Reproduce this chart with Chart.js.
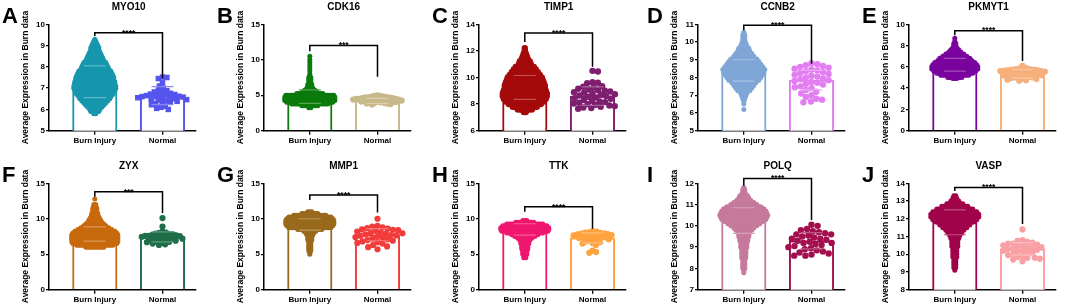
<!DOCTYPE html>
<html><head><meta charset="utf-8">
<script src="https://cdn.jsdelivr.net/npm/chart.js@4.4.0/dist/chart.umd.min.js"></script>
<style>
html,body{margin:0;padding:0;background:#fff;width:1072px;height:307px;overflow:hidden;position:relative}
canvas{position:absolute}
</style></head><body>
<script>
// ---------- DATA ----------
const categories = ['Burn Injury', 'Normal'];
const genes = ['MYO10','CDK16','TIMP1','CCNB2','PKMYT1','ZYX','MMP1','TTK','POLQ','VASP'];
const panelLetters = ['A','B','C','D','E','F','G','H','I','J'];
const yTitle = 'Average Expression in Burn data';
const yMin  = [5, 0, 6, 5, 0, 0, 0, 0, 7, 8];
const yMax  = [10, 15, 14, 11, 10, 15, 15, 15, 12, 14];
const yStep = [1, 5, 2, 1, 2, 5, 5, 5, 1, 1];
const burnMean   = [7.3, 4.8, 9.25, 8.4, 6.2, 7.85, 9.2, 8.5, 10.25, 11.8];
const burnSD     = [0.75, 0.95, 0.9, 0.6, 0.6, 1.0, 0.8, 0.8, 0.6, 0.7];
const normalMean = [6.65, 4.2, 8.6, 7.85, 5.35, 7.45, 7.75, 7.3, 9.3, 10.3];
const normalSD   = [0.42, 0.35, 0.7, 0.55, 0.4, 0.7, 0.85, 0.7, 0.38, 0.35];
const stars = ['****','***','****','****','****','***','****','****','****','****'];
const bracketY        = [9.6, 12.0, 13.35, 10.94, 9.4, 13.8, 13.35, 11.7, 12.23, 13.76];
const bracketLeftEnd  = [9.45, 11.2, 12.66, 10.66, 8.97, 13.1, 12.65, 11.0, 11.89, 13.56];
const bracketRightEnd = [7.47, 7.6, 10.8, 8.78, 6.56, 10.8, 10.9, 8.6, 10.28, 11.7];

// Burn Injury swarms: [expression level, number of samples at that level]
const burnMYO10 = [[9.3,1],[9.2,2],[9.1,3],[9.0,4],[8.9,5],[8.8,5],[8.7,6],[8.6,7],[8.5,8],[8.4,9],[8.3,10],[8.2,12],[8.1,13],[8.0,14],[7.9,15],[7.8,17],[7.7,18],[7.6,19],[7.5,20],[7.4,20],[7.3,21],[7.2,21],[7.1,22],[7.0,22],[6.9,21],[6.8,20],[6.7,19],[6.6,17],[6.5,16],[6.4,14],[6.3,12],[6.2,10],[6.1,8],[6.0,6],[5.9,5],[5.8,2]];
const burnCDK16 = [[10.5,1],[10.0,1],[9.6,1],[9.2,1],[8.8,1],[8.4,1],[8.0,1],[7.75,1],[7.5,2],[7.25,2],[7.0,2],[6.75,2],[6.5,3],[6.25,3],[6.0,4],[5.75,6],[5.5,8],[5.25,14],[5.0,25],[4.75,26],[4.5,26],[4.25,26],[4.0,24],[3.75,19],[3.5,9],[3.25,2]];
const burnTIMP1 = [[12.2,1],[12.0,1],[11.8,2],[11.6,3],[11.4,4],[11.2,6],[11.0,7],[10.8,10],[10.6,12],[10.4,14],[10.2,16],[10.0,18],[9.8,19],[9.6,20],[9.4,21],[9.2,21],[9.0,22],[8.8,23],[8.6,23],[8.4,22],[8.2,20],[8.0,17],[7.8,13],[7.6,8],[7.4,2]];
const burnCCNB2 = [[10.55,1],[10.4,2],[10.25,2],[10.1,2],[9.95,3],[9.8,4],[9.65,6],[9.5,7],[9.35,9],[9.2,11],[9.05,14],[8.9,16],[8.75,18],[8.6,20],[8.45,22],[8.3,21],[8.15,20],[8.0,18],[7.85,16],[7.7,13],[7.55,11],[7.4,9],[7.25,7],[7.1,4],[6.95,3],[6.8,2],[6.65,1],[6.5,1],[6.2,1]];
const burnPKMYT1 = [[8.7,1],[8.4,1],[8.2,2],[8.0,2],[7.8,3],[7.6,5],[7.4,7],[7.2,10],[7.0,13],[6.8,16],[6.6,18],[6.4,21],[6.2,23],[6.0,24],[5.8,24],[5.6,22],[5.4,19],[5.2,15],[5.0,8],[4.9,3]];
const burnZYX = [[12.8,1],[12.0,2],[11.75,2],[11.5,3],[11.25,3],[11.0,3],[10.75,4],[10.5,4],[10.25,5],[10.0,6],[9.75,7],[9.5,8],[9.25,10],[9.0,12],[8.75,15],[8.5,18],[8.25,21],[8.0,23],[7.75,24],[7.5,24],[7.25,24],[7.0,24],[6.75,24],[6.5,23],[6.25,19],[6.0,10]];
const burnMMP1 = [[11.0,3],[10.75,9],[10.5,17],[10.25,22],[10.0,24],[9.75,25],[9.5,25],[9.25,25],[9.0,24],[8.75,22],[8.5,13],[8.25,7],[8.0,5],[7.75,4],[7.5,3],[7.25,3],[7.0,3],[6.75,2],[6.5,2],[6.25,2],[6.0,2],[5.75,2],[5.5,2],[5.25,1],[5.0,1]];
const burnTTK = [[9.75,3],[9.5,10],[9.25,19],[9.0,23],[8.75,25],[8.5,25],[8.25,24],[8.0,19],[7.75,14],[7.5,11],[7.25,8],[7.0,6],[6.75,5],[6.5,5],[6.25,4],[6.0,4],[5.75,4],[5.5,3],[5.25,3],[5.0,3],[4.75,2],[4.5,2]];
const burnPOLQ = [[11.8,1],[11.7,2],[11.6,2],[11.5,3],[11.4,5],[11.3,6],[11.2,8],[11.1,11],[11.0,14],[10.9,18],[10.8,21],[10.7,23],[10.6,24],[10.5,25],[10.4,24],[10.3,23],[10.2,20],[10.1,17],[10.0,14],[9.9,11],[9.8,9],[9.7,7],[9.6,6],[9.5,6],[9.4,5],[9.3,5],[9.2,4],[9.1,4],[9.0,4],[8.9,3],[8.8,3],[8.7,3],[8.6,3],[8.5,3],[8.4,2],[8.3,2],[8.2,2],[8.1,2],[8.0,2],[7.9,1],[7.8,1]];
const burnVASP = [[13.3,2],[13.15,3],[13.0,5],[12.85,9],[12.7,14],[12.55,19],[12.4,23],[12.25,25],[12.1,25],[11.95,23],[11.8,19],[11.65,16],[11.5,13],[11.35,10],[11.2,8],[11.05,6],[10.9,5],[10.75,4],[10.6,4],[10.45,4],[10.3,3],[10.15,3],[10.0,3],[9.85,3],[9.7,2],[9.55,2],[9.4,2],[9.25,2],[9.1,1]];

// Normal samples (individual values)
const normalMYO10 = [7.52,7.50,7.45,7.25,7.10,7.00,6.90,6.88,6.82,6.80,6.76,6.72,6.70,6.68,6.66,6.65,6.62,6.60,6.60,6.58,6.56,6.55,6.52,6.50,6.48,6.46,6.44,6.40,6.38,6.35,6.30,6.28,6.22,6.15,6.10,6.05,6.00];
const normalCDK16 = [5.0,4.9,4.9,4.8,4.8,4.75,4.7,4.7,4.65,4.6,4.6,4.55,4.5,4.5,4.5,4.45,4.4,4.4,4.4,4.35,4.3,4.3,4.3,4.25,4.2,4.2,4.15,4.1,4.1,4.05,4.0,4.0,3.95,3.9,3.85,3.8,3.75,3.7];
const normalTIMP1 = [10.5,10.45,9.65,9.6,9.58,9.35,9.3,9.25,9.15,9.1,9.05,9.0,8.95,8.9,8.85,8.8,8.75,8.7,8.65,8.6,8.55,8.5,8.45,8.4,8.3,8.25,8.2,8.15,8.1,8.05,8.0,7.95,7.9,7.85,7.8,7.75,7.7,7.65];
const normalCCNB2 = [8.8,8.75,8.7,8.65,8.6,8.55,8.5,8.45,8.4,8.35,8.3,8.25,8.2,8.15,8.1,8.05,8.0,7.95,7.9,7.85,7.8,7.75,7.7,7.65,7.6,7.5,7.45,7.4,7.3,7.2,7.1,7.0,6.9,6.8,6.75,6.65,6.6];
const normalPKMYT1 = [6.1,5.9,5.85,5.8,5.8,5.75,5.75,5.7,5.7,5.65,5.65,5.6,5.6,5.55,5.5,5.5,5.45,5.4,5.4,5.35,5.3,5.3,5.25,5.2,5.2,5.15,5.1,5.05,5.0,5.0,4.95,4.9,4.85,4.8,4.75,4.7];
const normalZYX = [10.1,8.9,8.2,8.05,8.0,7.9,7.85,7.8,7.75,7.7,7.65,7.6,7.6,7.55,7.5,7.5,7.45,7.4,7.35,7.3,7.25,7.2,7.1,7.05,7.0,6.95,6.9,6.8,6.75,6.7,6.6,6.5,6.4,6.3];
const normalMMP1 = [10.0,9.0,8.9,8.8,8.7,8.6,8.5,8.45,8.4,8.3,8.2,8.1,8.0,7.95,7.9,7.8,7.7,7.65,7.6,7.5,7.4,7.3,7.2,7.1,7.0,6.9,6.8,6.7,6.6,6.5,6.3,6.1,6.0,5.7];
const normalTTK = [8.25,8.2,8.1,8.05,8.0,7.95,7.9,7.85,7.8,7.75,7.7,7.65,7.6,7.55,7.5,7.45,7.4,7.35,7.3,7.2,7.1,7.0,6.9,6.8,6.7,6.6,6.5,6.3,5.5,5.3,5.2];
const normalPOLQ = [10.05,10.0,9.85,9.8,9.75,9.7,9.65,9.6,9.6,9.55,9.5,9.45,9.4,9.4,9.35,9.3,9.25,9.2,9.2,9.15,9.1,9.05,9.0,8.95,8.9,8.85,8.8,8.75,8.7,8.65,8.6,8.6];
const normalVASP = [11.4,10.8,10.75,10.7,10.65,10.6,10.6,10.55,10.5,10.5,10.45,10.4,10.4,10.35,10.3,10.3,10.25,10.2,10.2,10.15,10.1,10.05,10.0,9.95,9.9,9.85,9.8,9.8,9.75,9.7,9.6];

const burnSwarms = [burnMYO10,burnCDK16,burnTIMP1,burnCCNB2,burnPKMYT1,burnZYX,burnMMP1,burnTTK,burnPOLQ,burnVASP];
const normalSwarms = [normalMYO10,normalCDK16,normalTIMP1,normalCCNB2,normalPKMYT1,normalZYX,normalMMP1,normalTTK,normalPOLQ,normalVASP];

// ---------- STYLE ----------
const burnColor   = ['#1797AD','#0B7B0B','#A50A0A','#7FA6D6','#7A049E','#C8690E','#996A1C','#F0176E','#C67A9C','#A0044A'];
const normalColor = ['#5555EE','#C8B98A','#7D1E6E','#E37EF2','#F5B07C','#1E6E4A','#F23B3B','#FFA23F','#A30F4E','#F8A0A3'];
const normalStyle = ['rect','circle','circle','circle','circle','circle','circle','circle','circle','circle'];
const normalRadius = [3.9,3.1,3.2,3.2,3.1,3.1,3.1,3.1,3.2,3.1];
const normalGap = [4.4,3.1,5.4,5.9,3.9,3.6,5.3,3.9,6.2,5.1];
const burnRadius = [2.5,2.5,3.2,2.5,2.5,2.5,2.5,2.5,2.5,2.5];
const burnDx = 2;
const axisShift = [0,0,0,4,0,0,0,0,4,0];

const W = 215, H = 150;
const colX = [0,215,430,645,860];
const rowY = [0,159];
const plotTop = 24.3, plotBottom = 130.7, plotW = 147;
const catLeft = 45.8, catGap = 67.7;

Chart.defaults.font.family = "'Liberation Sans', Arial, Helvetica, sans-serif";
Chart.defaults.color = '#000';

function lighten(hex, t) {
  const n = parseInt(hex.slice(1), 16);
  const r = (n >> 16) & 255, g = (n >> 8) & 255, b = n & 255;
  const f = c => Math.round(c + (255 - c) * t);
  return `rgb(${f(r)},${f(g)},${f(b)})`;
}

function swarm(values, ppuY, d) {
  const placed = [];
  const res = new Array(values.length);
  const order = values.map((v, i) => i).sort((a, b) => values[b] - values[a]);
  let flip = 1;
  for (const i of order) {
    const y = values[i] * ppuY;
    const near = placed.filter(q => Math.abs(q.y - y) < d);
    const cands = [0];
    near.forEach(q => { const dx = Math.sqrt(d * d - (q.y - y) ** 2); cands.push(q.x + dx, q.x - dx); });
    cands.sort((a, b) => (Math.abs(a) - Math.abs(b)) || (flip * (a - b)));
    let x = 0;
    for (const c of cands) {
      if (near.every(q => (q.x - c) ** 2 + (q.y - y) ** 2 >= d * d - 1e-6)) { x = c; break; }
    }
    flip = -flip;
    placed.push({x, y}); res[i] = x;
  }
  return res;
}

function errGeom(chart, p) {
  const xs = chart.scales.x, ys = chart.scales.y;
  return [[1, burnMean[p], burnSD[p], burnColor[p]], [2, normalMean[p], normalSD[p], normalColor[p]]].map(([cx, m, s, col]) => ({
    x: xs.getPixelForValue(cx), yT: ys.getPixelForValue(m + s), yB: ys.getPixelForValue(m - s), col
  }));
}

const overlay = {
  id: 'overlay',
  afterDatasetDraw(chart, args, opts) {
    if (args.index !== 2) return;
    const {ctx} = chart;
    ctx.save();
    errGeom(chart, opts.panel).forEach(e => {
      ctx.strokeStyle = e.col; ctx.lineWidth = 1.4;
      ctx.beginPath(); ctx.moveTo(e.x, e.yT); ctx.lineTo(e.x, e.yB); ctx.stroke();
    });
    ctx.restore();
  },
  afterDatasetsDraw(chart, args, opts) {
    const p = opts.panel;
    const {ctx} = chart;
    const xs = chart.scales.x, ys = chart.scales.y;
    ctx.save();
    errGeom(chart, p).forEach(e => {
      ctx.strokeStyle = lighten(e.col, 0.3); ctx.lineWidth = 1.2;
      ctx.beginPath();
      ctx.moveTo(e.x - 11, e.yT); ctx.lineTo(e.x + 11, e.yT);
      ctx.moveTo(e.x - 11, e.yB); ctx.lineTo(e.x + 11, e.yB);
      ctx.stroke();
    });
    const x1 = xs.getPixelForValue(1), x2 = xs.getPixelForValue(2);
    const yb = ys.getPixelForValue(bracketY[p]);
    ctx.strokeStyle = '#000';
    ctx.lineWidth = 1.5;
    ctx.beginPath();
    ctx.moveTo(x1, ys.getPixelForValue(bracketLeftEnd[p]));
    ctx.lineTo(x1, yb); ctx.lineTo(x2, yb);
    ctx.lineTo(x2, ys.getPixelForValue(bracketRightEnd[p]));
    ctx.stroke();
    ctx.fillStyle = '#000';
    ctx.textAlign = 'center';
    ctx.textBaseline = 'alphabetic';
    ctx.font = "bold 8.5px 'Liberation Sans', Arial, sans-serif";
    ctx.fillText(stars[p], (x1 + x2) / 2, yb + 2.8);
    ctx.font = "bold 10px 'Liberation Sans', Arial, sans-serif";
    ctx.textBaseline = 'middle';
    ctx.fillText(genes[p], (x1 + x2) / 2, 7.5);
    ctx.textAlign = 'left';
    ctx.textBaseline = 'alphabetic';
    ctx.font = "bold 22px 'Liberation Sans', Arial, sans-serif";
    ctx.fillText(panelLetters[p], 2, 23);
    ctx.restore();
  }
};

genes.forEach((g, p) => {
  const cv = document.createElement('canvas');
  cv.width = W; cv.height = H;
  cv.style.left = colX[p % 5] + 'px';
  cv.style.top = rowY[Math.floor(p / 5)] + 'px';
  document.body.appendChild(cv);

  const axisX = 49 + axisShift[p];
  const xMin = 1 - catLeft / catGap, xMax = xMin + plotW / catGap;
  const ppuX = catGap;
  const ppuY = (plotBottom - plotTop) / (yMax[p] - yMin[p]);

  const burnPts = [];
  burnSwarms[p].forEach(([v, c]) => {
    for (let k = 0; k < c; k++) burnPts.push({x: 1 + (k - (c - 1) / 2) * burnDx / ppuX, y: v});
  });
  const off = swarm(normalSwarms[p], ppuY, normalGap[p]);
  const normPts = normalSwarms[p].map((v, i) => ({x: 2 + off[i] / ppuX, y: v}));

  const axisGrid = {drawOnChartArea: false, color: '#000', lineWidth: 1.3, offset: false};
  new Chart(cv, {
    type: 'bar',
    data: {
      datasets: [
        {type: 'scatter', data: normPts, pointRadius: normalRadius[p], pointStyle: normalStyle[p],
         backgroundColor: normalColor[p], borderWidth: 0, pointBorderWidth: 0, clip: false, order: 1},
        {type: 'scatter', data: burnPts, pointRadius: burnRadius[p], backgroundColor: burnColor[p],
         borderWidth: 0, pointBorderWidth: 0, clip: false, order: 2},
        {type: 'bar', data: [{x: 1, y: burnMean[p]}, {x: 2, y: normalMean[p]}], backgroundColor: '#ffffff',
         borderColor: [burnColor[p], normalColor[p]], borderWidth: 2, barThickness: 44.5, grouped: false, order: 3}
      ]
    },
    options: {
      responsive: false, animation: false, events: [],
      layout: {padding: {left: 0, top: plotTop, right: W - axisX - plotW, bottom: 0}},
      plugins: {legend: {display: false}, tooltip: {enabled: false}, overlay: {panel: p}},
      scales: {
        x: {
          type: 'linear', min: xMin, max: xMax, offset: false,
          afterBuildTicks: s => { s.ticks = [{value: 1}, {value: 2}]; },
          afterFit: s => { s.height = H - plotBottom; },
          ticks: {callback: v => categories[v - 1], font: {size: 8, weight: 'bold'}, padding: 1, maxRotation: 0, autoSkip: false},
          grid: Object.assign({tickLength: 4}, axisGrid),
          border: {color: '#000', width: 1.5}
        },
        y: {
          min: yMin[p], max: yMax[p],
          afterFit: s => { s.width = axisX; },
          ticks: {stepSize: yStep[p], font: {size: 8, weight: 'bold'}, padding: 1},
          grid: Object.assign({tickLength: 3}, axisGrid),
          border: {color: '#000', width: 1.5},
          title: {display: true, text: yTitle, font: {size: 8.5, weight: 'bold'}, padding: {top: axisX - 28, bottom: 0}}
        }
      }
    },
    plugins: [overlay]
  });
});
</script>
</body></html>
